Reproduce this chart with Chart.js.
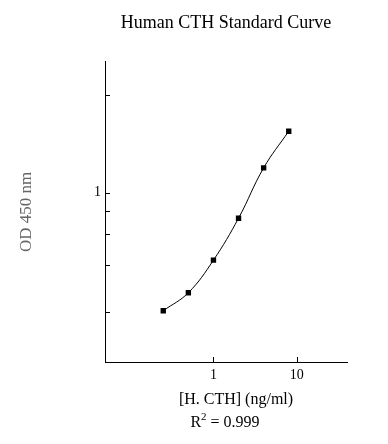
<!DOCTYPE html>
<html>
<head>
<meta charset="utf-8">
<script src="https://cdn.jsdelivr.net/npm/chart.js@4/dist/chart.umd.min.js"></script>
<style>
  html, body { margin: 0; padding: 0; background: #fff; }
  #wrap { width: 388px; height: 444px; }
</style>
</head>
<body>
<div id="wrap"><canvas id="c" width="388" height="444"></canvas></div>
<script>
// standard curve data
const conc = [0.25, 0.5, 1, 2, 4, 8];            // ng/ml
const od = [0.432, 0.491, 0.619, 0.834, 1.193, 1.548];

// axis ticks
const xTicks = [1, 10];
const yTicks = [2, 1, 0.875, 0.745, 0.598, 0.427];
const yLabelled = [1];

const titleText = "Human CTH Standard Curve";
const xTitle = "[H. CTH] (ng/ml)";
const yTitle = "OD 450 nm";
const r2Text = "0.999";

const serif = "'Liberation Serif', 'Times New Roman', serif";

// tick marks point into the plot, like the original; plus the x title and R^2 lines
const extras = {
  id: "extras",
  afterDraw(chart) {
    const ctx = chart.ctx;
    const xs = chart.scales.x, ys = chart.scales.y;
    const a = chart.chartArea;
    ctx.save();
    ctx.strokeStyle = "#000";
    ctx.lineWidth = 1;
    ctx.beginPath();
    xTicks.forEach(v => {
      const px = Math.round(xs.getPixelForValue(v)) + 0.5;
      ctx.moveTo(px, a.bottom);
      ctx.lineTo(px, a.bottom - 5);
    });
    yTicks.forEach(v => {
      const py = Math.round(ys.getPixelForValue(v)) + 0.5;
      ctx.moveTo(a.left, py);
      ctx.lineTo(a.left + 5, py);
    });
    ctx.stroke();

    ctx.fillStyle = "#000";
    ctx.textBaseline = "alphabetic";

    // x title
    ctx.font = "16px " + serif;
    ctx.textAlign = "center";
    ctx.fillText(xTitle, 236, 404);

    // R^2 line
    ctx.textAlign = "left";
    const cx = 225, by = 427;
    const rest = " = " + r2Text;
    ctx.font = "16px " + serif;
    const wR = ctx.measureText("R").width;
    const wRest = ctx.measureText(rest).width;
    ctx.font = "11px " + serif;
    const w2 = ctx.measureText("2").width;
    const x0 = cx - (wR + w2 + wRest) / 2;
    ctx.font = "16px " + serif;
    ctx.fillText("R", x0, by);
    ctx.font = "11px " + serif;
    ctx.fillText("2", x0 + wR, by - 7);
    ctx.font = "16px " + serif;
    ctx.fillText(rest, x0 + wR + w2, by);
    ctx.restore();
  }
};

new Chart(document.getElementById("c").getContext("2d"), {
  type: "line",
  data: {
    datasets: [{
      data: conc.map((x, i) => ({ x: x, y: od[i] })),
      borderColor: "#000",
      borderWidth: 1,
      backgroundColor: "#000",
      pointStyle: "rect",
      pointRadius: 3.8,
      pointBorderWidth: 0,
      tension: 0.4,
      fill: false,
    }],
  },
  options: {
    responsive: false,
    animation: false,
    layout: { padding: { left: 0, right: 41, top: 0, bottom: 0 } },
    plugins: {
      legend: { display: false },
      tooltip: { enabled: false },
      title: {
        display: true,
        text: titleText,
        fullSize: false,
        color: "#000",
        font: { family: serif, size: 18, weight: "normal" },
        padding: { top: 12, bottom: 28 },
      },
    },
    scales: {
      x: {
        type: "logarithmic",
        min: 0.05,
        max: 40,
        afterBuildTicks: s => { s.ticks = xTicks.map(v => ({ value: v })); },
        afterFit: s => { s.height = 82; },
        border: { display: true, color: "#000", width: 1 },
        grid: { display: false, drawTicks: false },
        ticks: {
          color: "#000",
          padding: 5,
          font: { family: serif, size: 14 },
          callback: v => String(v),
        },
        title: { display: false },
      },
      y: {
        type: "logarithmic",
        min: 0.306,
        max: 2.54,
        afterBuildTicks: s => { s.ticks = yTicks.map(v => ({ value: v })); },
        afterFit: s => { s.width = 105; },
        border: { display: true, color: "#000", width: 1 },
        grid: { display: false, drawTicks: false },
        ticks: {
          color: "#000",
          padding: 4,
          font: { family: serif, size: 14 },
          callback: v => (yLabelled.includes(v) ? String(v) : ""),
        },
        title: {
          display: true,
          text: yTitle,
          color: "#666",
          font: { family: serif, size: 17 },
          padding: { top: 16, bottom: 0 },
        },
      },
    },
  },
  plugins: [extras],
});
</script>
</body>
</html>
